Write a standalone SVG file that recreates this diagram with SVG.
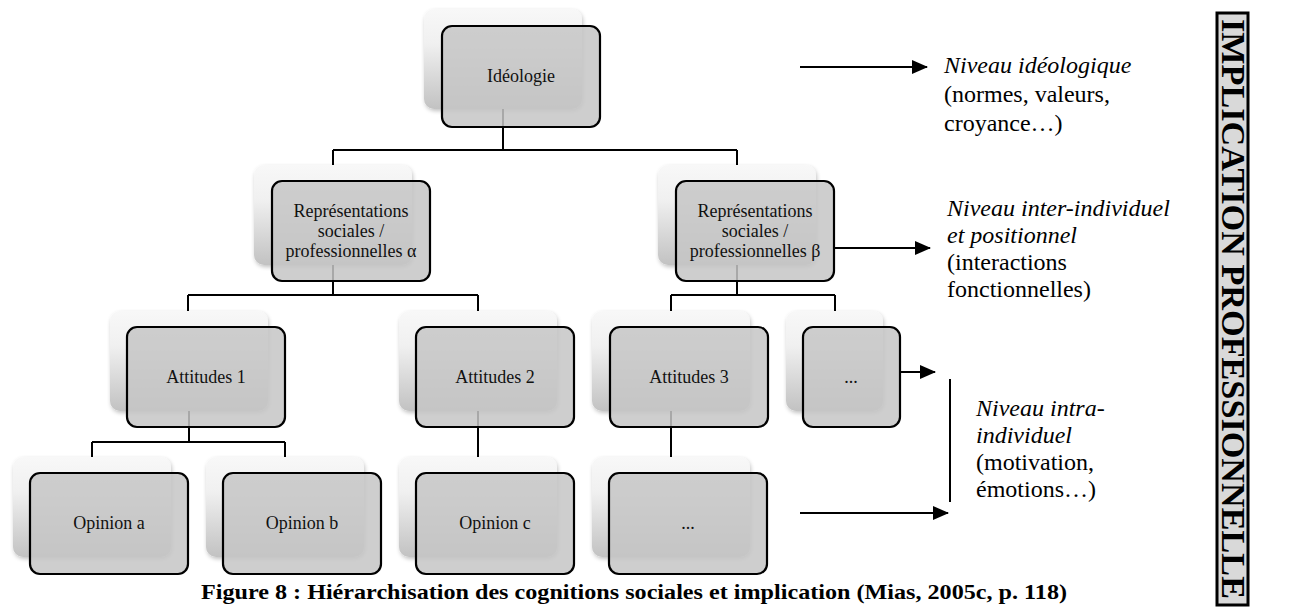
<svg xmlns="http://www.w3.org/2000/svg" width="1306" height="612" viewBox="0 0 1306 612">
  <defs>
    <linearGradient id="backGrad" x1="0" y1="0" x2="0" y2="1">
      <stop offset="0" stop-color="#f8f8f8"/>
      <stop offset="0.35" stop-color="#f0f0f0"/>
      <stop offset="1" stop-color="#c2c2c2"/>
    </linearGradient>
    <filter id="soft" x="-10%" y="-10%" width="125%" height="125%">
      <feGaussianBlur in="SourceAlpha" stdDeviation="2"/>
      <feOffset dx="1" dy="2" result="b"/>
      <feComponentTransfer><feFuncA type="linear" slope="0.25"/></feComponentTransfer>
      <feMerge><feMergeNode/><feMergeNode in="SourceGraphic"/></feMerge>
    </filter>
    <marker id="arrow" markerWidth="16" markerHeight="14" refX="15" refY="7" orient="auto" markerUnits="userSpaceOnUse">
      <path d="M0,0 L16,7 L0,14 Z" fill="#000"/>
    </marker>
  </defs>
  <style>
    .back { fill: url(#backGrad); filter: url(#soft); }
    .front { fill: #c6c6c6; fill-opacity: 0.85; stroke: #000; stroke-width: 2.2; }
    .conn { fill: none; stroke: #000; stroke-width: 2; }
    .arr { fill: none; stroke: #000; stroke-width: 2; marker-end: url(#arrow); }
    .lbl { font-family: "Liberation Serif", "Times New Roman", serif; font-size: 18px; fill: #111; text-anchor: middle; }
    .side { font-family: "Liberation Serif", "Times New Roman", serif; font-size: 24px; fill: #000; }
    .it { font-style: italic; }
    .cap { font-family: "Liberation Serif", "Times New Roman", serif; font-size: 22px; font-weight: bold; fill: #000; text-anchor: middle; }
    .vert { font-family: "Liberation Serif", "Times New Roman", serif; font-size: 33px; font-weight: bold; fill: #000; text-anchor: middle; }
  </style>

  <g id="connectors">
    <path class="conn" d="M503,109 V150 M333,150 H737 M333,150 V165 M737,150 V165"/>
    <path class="conn" d="M333,265 V295 M188,295 H478 M188,295 V311 M478,295 V311"/>
    <path class="conn" d="M737,265 V295 M671,295 H835 M671,295 V311 M835,295 V311"/>
    <path class="conn" d="M189,411 V442 M92,442 H285 M92,442 V457 M285,442 V457"/>
    <path class="conn" d="M478,411 V457"/>
    <path class="conn" d="M671,411 V457"/>
    <line class="arr" x1="800" y1="67" x2="927" y2="67"/>
    <line class="arr" x1="835" y1="248" x2="930" y2="248"/>
    <line class="arr" x1="900" y1="372" x2="935" y2="372"/>
    <line class="arr" x1="800" y1="513" x2="948" y2="513"/>
    <line class="conn" x1="950" y1="379" x2="950" y2="502" stroke-width="1.5"/>
  </g>

  <g id="node-ideologie">
    <rect class="back" x="424" y="9" width="158" height="100" rx="10"/>
    <rect class="front" x="442" y="26" width="158" height="101" rx="10"/>
    <text class="lbl" x="521" y="82">Idéologie</text>
  </g>
  <g id="node-rep-alpha">
    <rect class="back" x="254" y="165" width="158" height="100" rx="10"/>
    <rect class="front" x="272" y="181" width="158" height="100" rx="10"/>
    <text class="lbl" x="351" y="217">Représentations</text>
    <text class="lbl" x="351" y="237">sociales /</text>
    <text class="lbl" x="351" y="257">professionnelles α</text>
  </g>
  <g id="node-rep-beta">
    <rect class="back" x="658" y="165" width="158" height="100" rx="10"/>
    <rect class="front" x="676" y="181" width="158" height="100" rx="10"/>
    <text class="lbl" x="755" y="217">Représentations</text>
    <text class="lbl" x="755" y="237">sociales /</text>
    <text class="lbl" x="755" y="257">professionnelles β</text>
  </g>
  <g id="node-att1">
    <rect class="back" x="110" y="311" width="158" height="100" rx="10"/>
    <rect class="front" x="127" y="327" width="158" height="100" rx="10"/>
    <text class="lbl" x="206" y="383">Attitudes 1</text>
  </g>
  <g id="node-att2">
    <rect class="back" x="399" y="311" width="158" height="100" rx="10"/>
    <rect class="front" x="416" y="327" width="158" height="100" rx="10"/>
    <text class="lbl" x="495" y="383">Attitudes 2</text>
  </g>
  <g id="node-att3">
    <rect class="back" x="592" y="311" width="158" height="100" rx="10"/>
    <rect class="front" x="610" y="327" width="158" height="100" rx="10"/>
    <text class="lbl" x="689" y="383">Attitudes 3</text>
  </g>
  <g id="node-att-more">
    <rect class="back" x="786" y="311" width="97" height="100" rx="10"/>
    <rect class="front" x="803" y="327" width="97" height="100" rx="10"/>
    <text class="lbl" x="851" y="383" font-size="14">...</text>
  </g>
  <g id="node-op-a">
    <rect class="back" x="13" y="457" width="158" height="100" rx="10"/>
    <rect class="front" x="30" y="473" width="158" height="101" rx="10"/>
    <text class="lbl" x="109" y="529">Opinion a</text>
  </g>
  <g id="node-op-b">
    <rect class="back" x="206" y="457" width="158" height="100" rx="10"/>
    <rect class="front" x="223" y="473" width="158" height="101" rx="10"/>
    <text class="lbl" x="302" y="529">Opinion b</text>
  </g>
  <g id="node-op-c">
    <rect class="back" x="399" y="457" width="158" height="100" rx="10"/>
    <rect class="front" x="416" y="473" width="158" height="101" rx="10"/>
    <text class="lbl" x="495" y="529">Opinion c</text>
  </g>
  <g id="node-op-more">
    <rect class="back" x="592" y="457" width="158" height="100" rx="10"/>
    <rect class="front" x="609" y="473" width="158" height="101" rx="10"/>
    <text class="lbl" x="688" y="529" font-size="14">...</text>
  </g>

  <g id="level-ideologique">
    <text class="side it" x="944" y="73">Niveau idéologique</text>
    <text class="side" x="944" y="102">(normes, valeurs,</text>
    <text class="side" x="944" y="131">croyance…)</text>
  </g>
  <g id="level-inter">
    <text class="side it" x="947" y="216">Niveau inter-individuel</text>
    <text class="side it" x="947" y="243">et positionnel</text>
    <text class="side" x="947" y="270">(interactions</text>
    <text class="side" x="947" y="297">fonctionnelles)</text>
  </g>
  <g id="level-intra">
    <text class="side it" x="976" y="416">Niveau intra-</text>
    <text class="side it" x="976" y="443">individuel</text>
    <text class="side" x="976" y="470">(motivation,</text>
    <text class="side" x="976" y="497">émotions…)</text>
  </g>

  <g id="implication">
    <rect x="1217" y="13" width="31" height="592" fill="#d9d9d9" stroke="#000" stroke-width="3"/>
    <text class="vert" transform="translate(1232.5,309) rotate(90)" y="11" textLength="580" lengthAdjust="spacingAndGlyphs">IMPLICATION PROFESSIONNELLE</text>
  </g>

  <text class="cap" x="634" y="599" textLength="866" lengthAdjust="spacingAndGlyphs">Figure 8 : Hiérarchisation des cognitions sociales et implication (Mias, 2005c, p. 118)</text>
</svg>
